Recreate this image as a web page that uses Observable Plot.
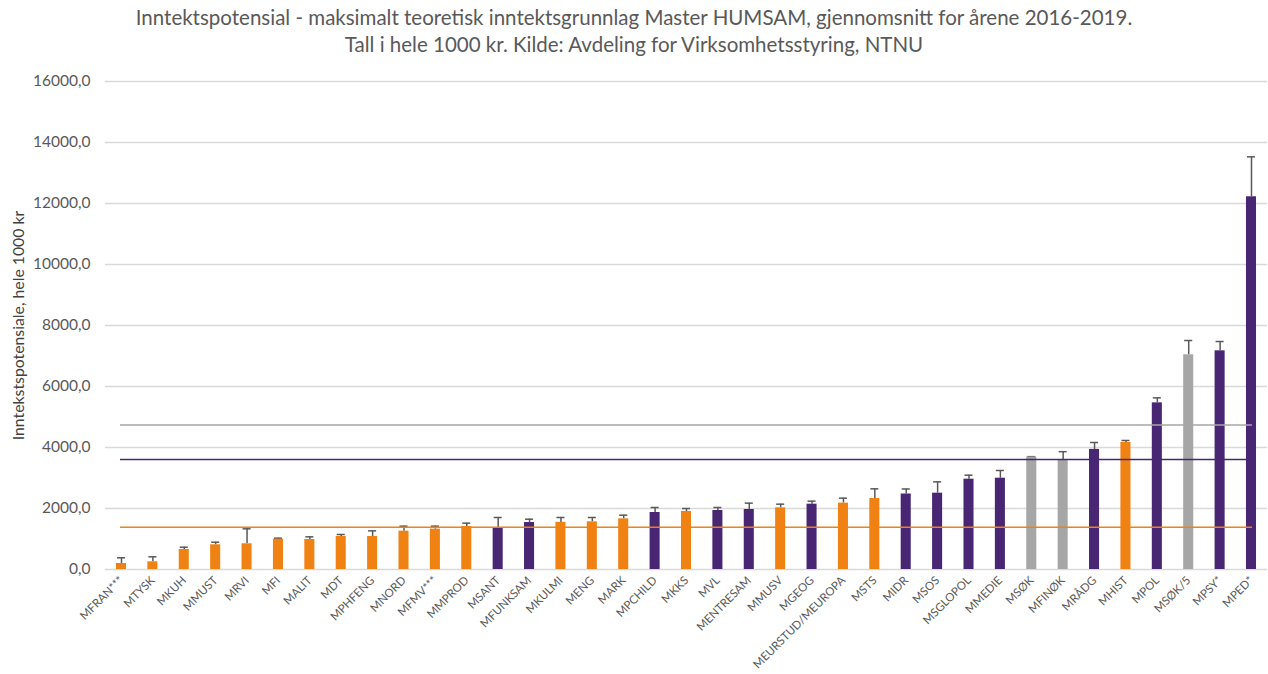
<!DOCTYPE html>
<html><head><meta charset="utf-8">
<script src="https://cdn.jsdelivr.net/npm/d3@7"></script>
<script src="https://cdn.jsdelivr.net/npm/@observablehq/plot@0.6"></script>
<style>
body{margin:0;background:#fff;font-family:Lato,sans-serif;}
#title{height:62px;text-align:center;color:#595959;font-size:20.5px;line-height:27px;padding-top:4px;box-sizing:border-box;white-space:nowrap;}
#chart svg{display:block;}
</style></head><body>
<div id="title">Inntektspotensial - maksimalt teoretisk inntektsgrunnlag Master HUMSAM, gjennomsnitt for årene 2016-2019.<br>Tall i hele 1000 kr. Kilde: Avdeling for Virksomhetsstyring, NTNU</div>
<div id="chart"></div>
<script>
const categories = ["MFRAN***","MTYSK","MKUH","MMUST","MRVI","MFI","MALIT","MDT","MPHFENG","MNORD","MFMV***","MMPROD","MSANT","MFUNKSAM","MKULMI","MENG","MARK","MPCHILD","MKKS","MVL","MENTRESAM","MMUSV","MGEOG","MEURSTUD/MEUROPA","MSTS","MIDR","MSOS","MSGLOPOL","MMEDIE","MSØK","MFINØK","MRÅDG","MHIST","MPOL","MSØK/5","MPSY*","MPED*"];
const values = [197,252,656,810,843,994,984,1082,1082,1257,1322,1410,1355,1540,1545,1563,1661,1869,1902,1934,1967,2022,2142,2175,2328,2475,2502,2961,2994,3686,3600,3938,4164,5464,7039,7170,12220];
const errors = [187,164,75,85,491,33,87,66,186,164,99,109,350,109,160,142,120,164,98,99,208,120,98,164,317,165,372,131,252,14,263,226,66,164,469,305,1310];
const groups = ["A","A","A","A","A","A","A","A","A","A","A","A","B","B","A","A","A","B","A","B","B","A","B","A","A","B","B","B","B","C","C","B","A","B","C","B","B"];
const groupNames = ["A","B","C"];
const groupColors = ["#F08113","#482673","#A6A6A6"];
const refValues = [4740, 3610, 1385];
const refColors = ["#A6A6A6","#482673","#F08113"];
const yTicks = [0,2000,4000,6000,8000,10000,12000,14000,16000];
const yLabel = "Inntekstspotensiale, hele 1000 kr";

const data = categories.map((c,i)=>({cat:c, value:values[i], err:errors[i], group:groups[i]}));
const refs = refValues.map((v,i)=>({v, c:refColors[i]}));
const fmt = d => d3.format(".1f")(d).replace(".", ",");

const chart = Plot.plot({
  width:1268, height:612,
  marginTop:19, marginBottom:105, marginLeft:105, marginRight:1,
  style:{fontFamily:"Lato, sans-serif", color:"#595959", background:"#fff", overflow:"visible"},
  x:{domain:categories, paddingInner:0.68, paddingOuter:0.35, round:false},
  y:{domain:[0,16000]},
  color:{domain:groupNames, range:groupColors},
  marks:[
    Plot.gridY(yTicks, {stroke:"#d9d9d9", strokeOpacity:1, strokeWidth:1.3}),
    Plot.axisY(yTicks, {tickSize:0, tickPadding:15, tickFormat:fmt, fontSize:15.5, label:null}),
    Plot.axisX({tickSize:0, tickRotate:-45, fontSize:11.5, tickPadding:9, label:null}),
    Plot.text([yLabel], {frameAnchor:"left", textAnchor:"middle", dx:-87, rotate:-90, fontSize:15.8, fill:"#404040"}),
    Plot.ruleX(data, {x:"cat", y1:"value", y2:d=>d.value+d.err, stroke:"#595959", strokeWidth:1.5}),
    Plot.tickY(data, {x:"cat", y:d=>d.value+d.err, stroke:"#595959", strokeWidth:1.5, insetLeft:1, insetRight:1}),
    Plot.barY(data, {x:"cat", y:"value", fill:"group"}),
    Plot.ruleY(refs, {y:"v", stroke:"c", strokeWidth:1.5, insetLeft:15, insetRight:15})
  ]
});
document.getElementById("chart").appendChild(chart);
</script></body></html>
